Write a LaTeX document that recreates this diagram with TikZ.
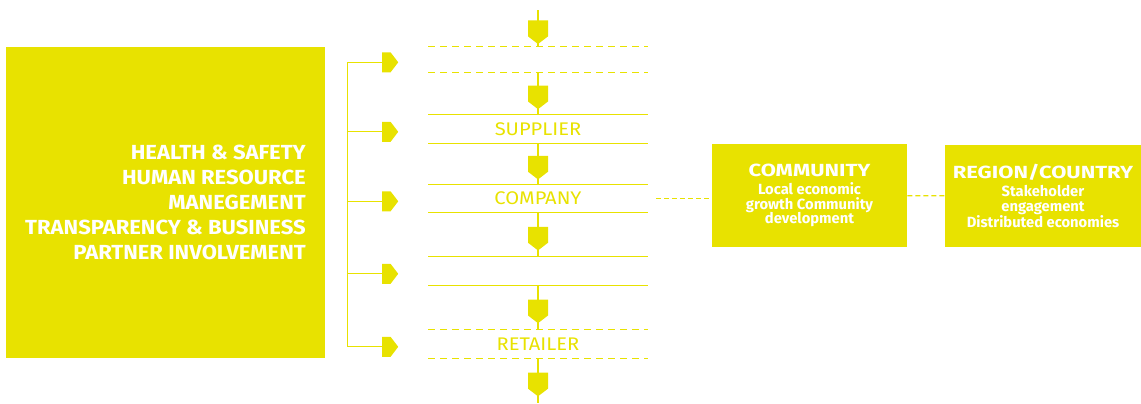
\documentclass[tikz,border=0pt]{standalone}
\usepackage{fontspec}
\setmainfont{Fira Sans}
\usetikzlibrary{positioning,shapes.symbols}
\definecolor{lime}{RGB}{232,226,0}
\newcommand\boxtitle{\fontsize{12.5}{13}\selectfont\addfontfeature{FakeStretch=1.25}}

\begin{document}
\begin{tikzpicture}[x=0.025cm, y=-0.025cm,
  bigbox/.style={fill=lime, text=white, font=\bfseries, align=center, inner sep=0pt},
  band/.style={minimum width=5.475cm, minimum height=0.7cm, inner sep=0pt, text=lime,
    font=\fontsize{13}{15}\selectfont\addfontfeature{FakeStretch=1.1}},
  rline/.style={draw=lime, line width=0.9pt},
  dline/.style={rline, dash pattern=on 0.175cm off 0.125cm},
  flow/.style={draw=lime, line width=0.8pt},
  link/.style={draw=lime, line width=0.8pt, dash pattern=on 0.125cm off 0.075cm},
  headright/.style={signal, signal to=east, signal pointer angle=105, fill=lime, minimum width=0.4cm, minimum height=0.5cm, inner sep=0pt},
  headdown/.style={signal, signal to=south, signal pointer angle=105, fill=lime, minimum width=0.5cm, minimum height=0.4cm, inner sep=0pt}]
  \useasboundingbox (0,0) rectangle (1141,403);

  \node[bigbox, minimum width=7.975cm, minimum height=7.775cm, align=right,
    font=\bfseries\fontsize{14.5}{17.8}\selectfont\addfontfeature{FakeStretch=1.08}] (issues) at (165.5,202.5)
    {HEALTH \& SAFETY\\HUMAN RESOURCE\\MANEGEMENT\\TRANSPARENCY \& BUSINESS\\PARTNER INVOLVEMENT};

  % value chain
  \node[band, minimum height=0.625cm] (inflow) at (538,59.5) {};
  \node[band] (supplier) at (538,129) {SUPPLIER};
  \node[band] (company) at (538,198.5) {COMPANY};
  \node[band] (use) at (538,271) {};
  \node[band] (retailer) at (538,344) {RETAILER};
  \foreach \s/\l in {inflow/dline, supplier/rline, company/rline, use/rline, retailer/dline}
    \draw[\l] (\s.north west) -- (\s.north east) (\s.south west) -- (\s.south east);

  \coordinate (src) at (538,10);
  \coordinate (sink) at (538,403);
  \foreach \a/\b in {src/inflow, inflow/supplier, supplier/company, company/use, use/retailer, retailer/sink}
    \draw[flow] (\a) -- (\b) node[pos=0.5, headdown] {};

  % feedback arrows
  \foreach \s/\n in {inflow/0, supplier/1, company/2, use/3, retailer/4}
    \node[headright, left=0.74cm of \s, yshift=-0.07cm] (arr\n) {};
  \coordinate[left=0.875cm of arr4.west] (foot);
  \draw[flow, line width=0.6pt] (arr0.west) -| (foot) -- (arr4.west);
  \foreach \n in {1,2,3}
    \draw[flow, line width=0.6pt] (arr\n.west) -- (arr\n.west -| foot);

  \node[bigbox, minimum width=4.875cm, minimum height=2.575cm,
    font=\bfseries\fontsize{10.5}{10.4}\selectfont] (community) at (809.5,195.5)
    {{\boxtitle COMMUNITY}\\[2.4pt]Local economic\\growth Community\\development};
  \node[bigbox, minimum width=4.9cm, minimum height=2.55cm,
    font=\bfseries\fontsize{10.5}{10.4}\selectfont] (region) at (1043,196)
    {{\boxtitle REGION/COUNTRY}\\[2.4pt]Stakeholder\\engagement\\Distributed economies};

  \draw[link, shorten <=0.2cm] (company.east) -- (company.east -| community.west);
  \draw[link] (community) -- (region);
\end{tikzpicture}
\end{document}
